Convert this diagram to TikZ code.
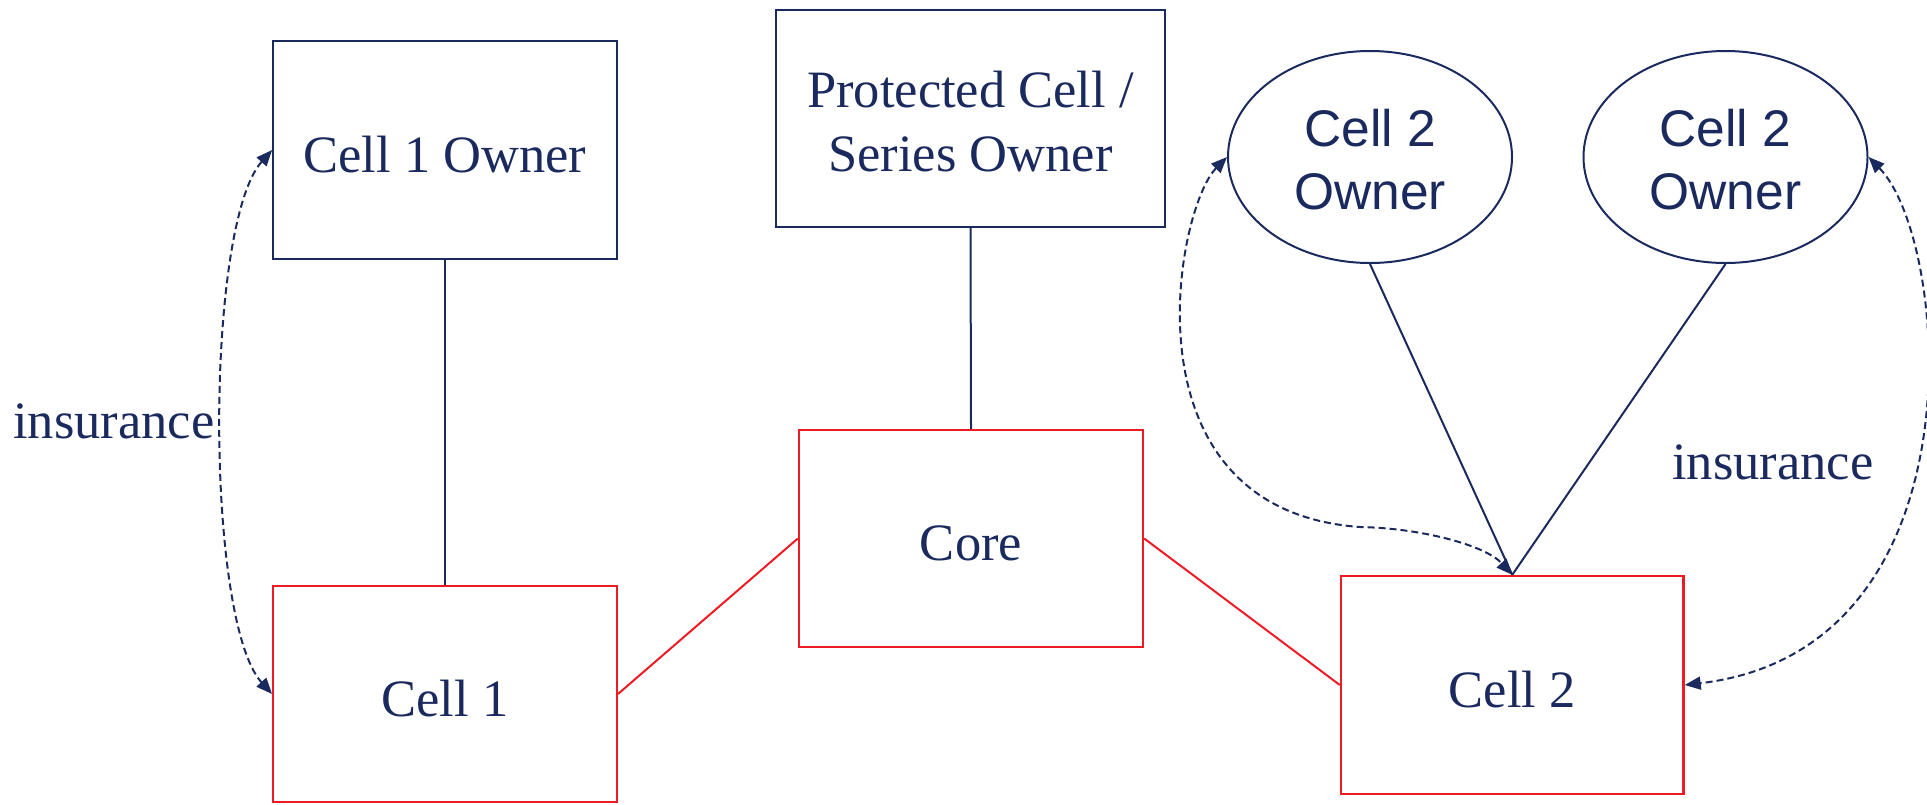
\documentclass[tikz,border=0pt]{standalone}
\usepackage{fontspec}
\setmainfont{Liberation Serif}
\newfontfamily\arialf{Liberation Sans}
\usetikzlibrary{arrows.meta,shapes.geometric}
\definecolor{navy}{RGB}{27,42,94}
\definecolor{cred}{RGB}{237,28,36}
\begin{document}
\begin{tikzpicture}[x=1pt,y=-1pt,
  every node/.style={text=navy, font=\fontsize{52.5}{64}\selectfont},
  oneline/.style={text height=44pt, text depth=0pt},
  navybox/.style={draw=navy, line width=2.2pt, rectangle, inner sep=0pt},
  redbox/.style={draw=cred, line width=2.4pt, rectangle, inner sep=0pt, oneline},
  ownerell/.style={draw=navy, line width=2pt, ellipse, inner sep=0pt,
    minimum width=284pt, minimum height=212pt, align=center,
    text height=104pt, text depth=0pt,
    font=\arialf\fontsize{51.5}{63}\selectfont},
  navyline/.style={draw=navy, line width=2pt},
  redline/.style={draw=cred, line width=2pt},
  dashedarrow/.style={draw=navy, line width=2pt, dash pattern=on 7pt off 4pt,
    {Triangle[length=16pt,width=13pt]}-{Triangle[length=16pt,width=13pt]}}]
\useasboundingbox (0,0) rectangle (1927,804);
\node[navybox, oneline, minimum width=343.5pt, minimum height=218.5pt] (o1) at (445,150) {Cell 1 Owner};
\node[redbox, minimum width=343.5pt, minimum height=216pt] (c1) at (445,694) {Cell 1};
\node[navybox, minimum width=389pt, minimum height=217pt, align=center, text height=105pt, text depth=0pt] (po) at (970.5,118.5) {Protected Cell /\\Series Owner};
\node[redbox, minimum width=344pt, minimum height=217pt] (core) at (971,538.5) {Core};
\node[redbox, minimum width=342.5pt, minimum height=218pt] (c2) at (1512.25,685) {Cell 2};
\node[ownerell] (e1) at (1370,157) {Cell 2\\Owner};
\node[ownerell] (e2) at (1725.5,157) {Cell 2\\Owner};
\node[anchor=base west, inner sep=0pt] (ins1) at (13,438) {insurance};
\node[anchor=base west, inner sep=0pt] (ins2) at (1672,479) {insurance};
\draw[navyline] (o1.south) -- (c1.north);
\draw[navyline] (po.south) -- (core.north);
\draw[redline] (core.west) -- (c1.east);
\draw[redline] (core.east) -- (c2.west);
\draw[navyline] (e1.south) -- (c2.north);
\draw[navyline] (e2.south) -- (c2.north);
\coordinate (m1) at (1360,527);
\draw[dashedarrow] (o1.west) .. controls (205,225) and (205,620) .. (c1.west);
\draw[dashedarrow] (e1.west) .. controls (1175,210) and (1120,510) .. (m1) .. controls (1420,528) and (1485,545) .. (c2.north);
\draw[dashedarrow] (e2.east) .. controls (1950,240) and (1985,650) .. (c2.east);
\end{tikzpicture}
\end{document}
